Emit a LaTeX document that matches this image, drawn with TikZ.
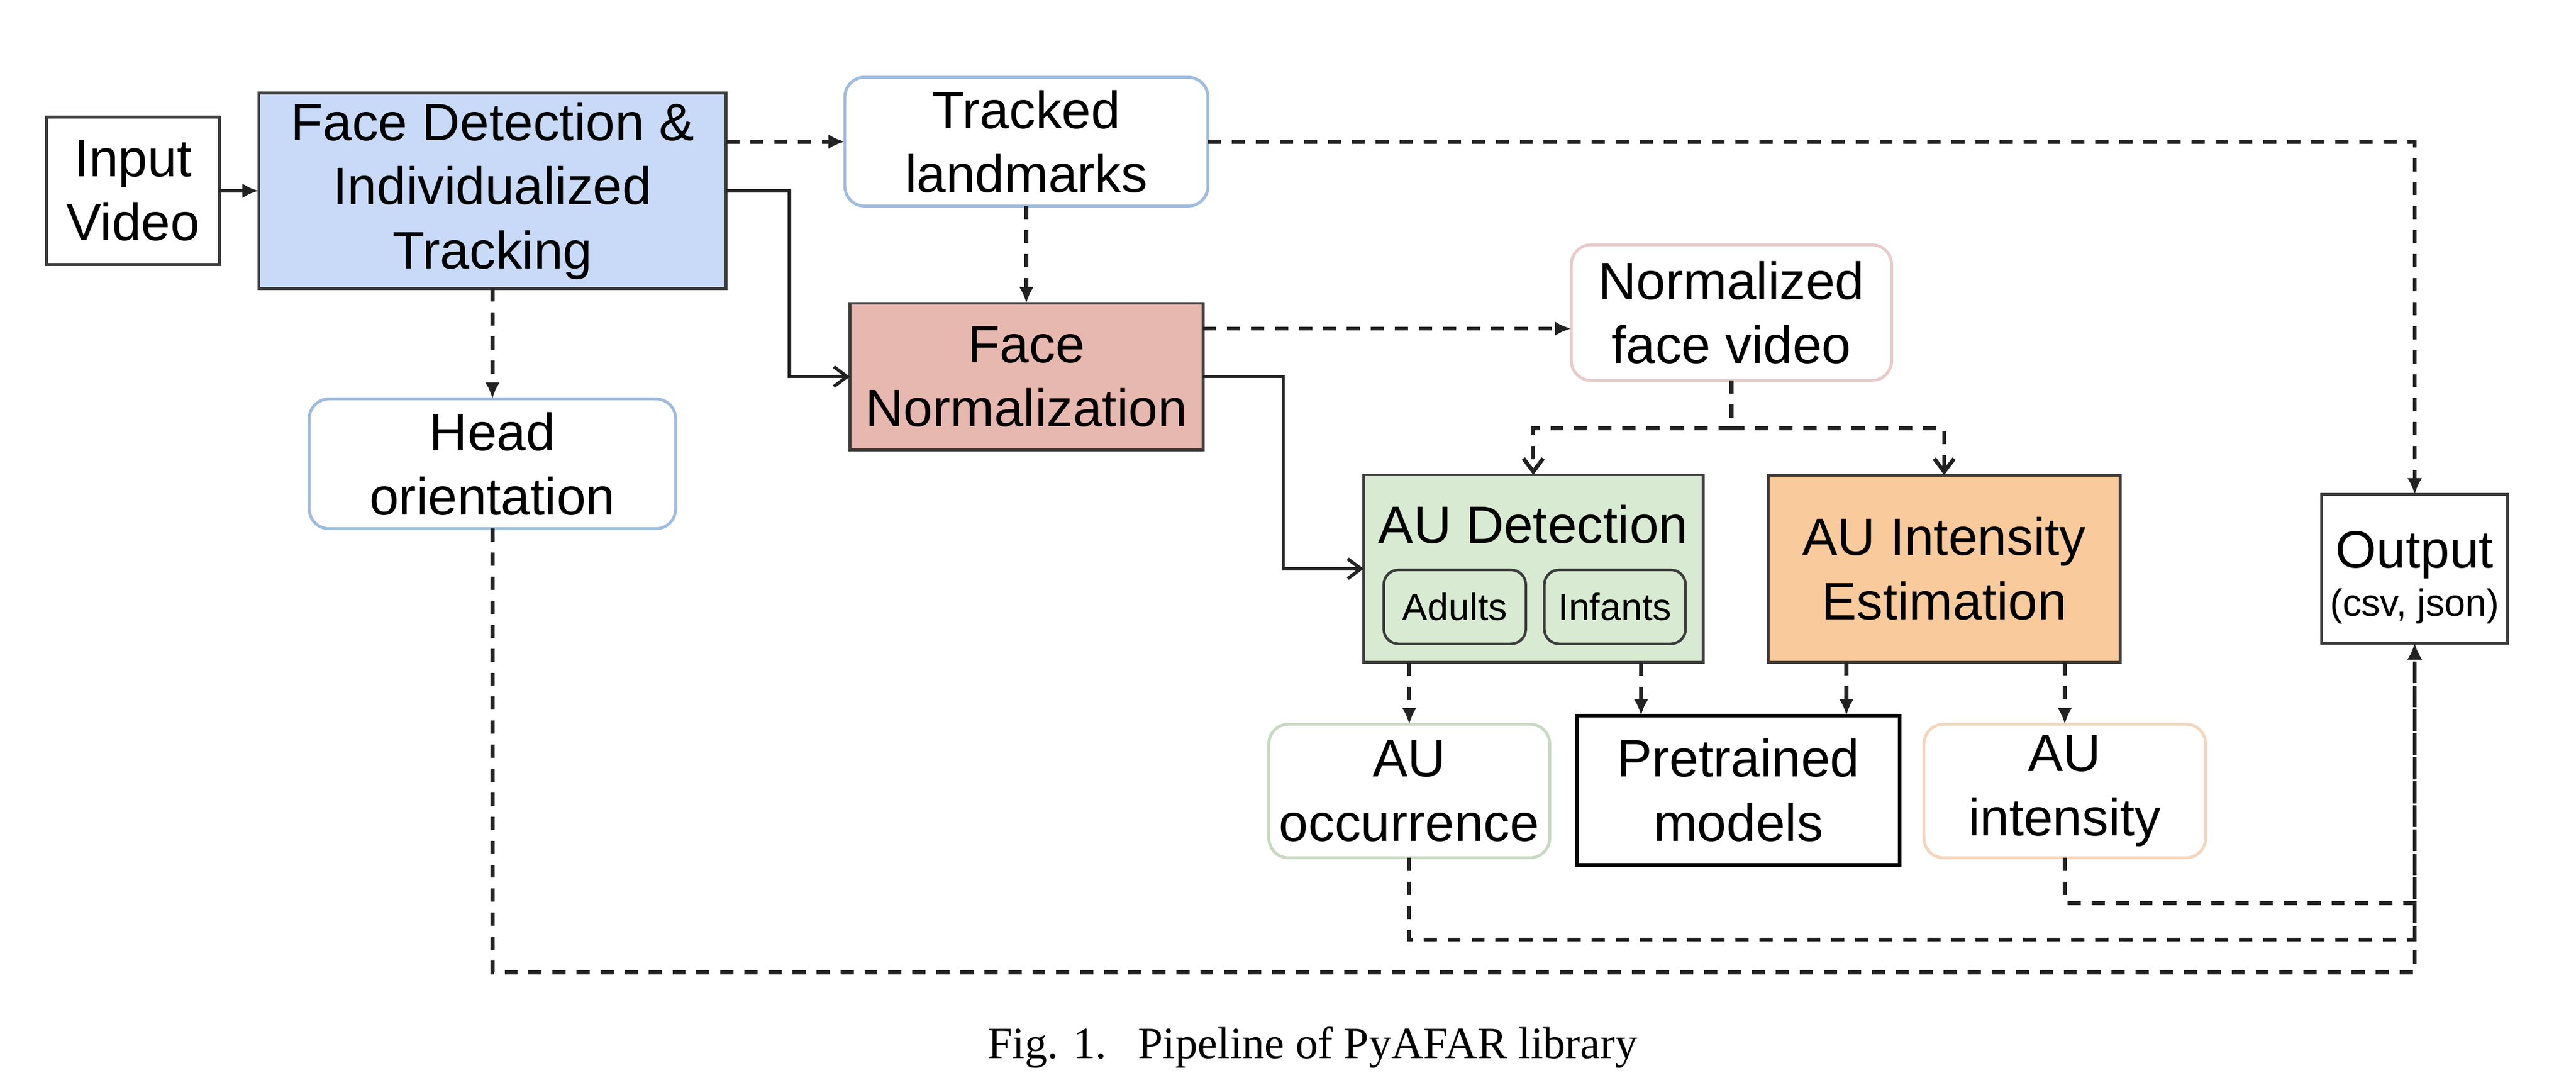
\documentclass[tikz,border=0pt]{standalone}
\usepackage{fontspec}
\setmainfont{Liberation Sans}
\newfontfamily\capfont{Liberation Serif}
\usetikzlibrary{arrows.meta,calc}
\definecolor{fdblue}{HTML}{C9DAF8}
\definecolor{fnred}{HTML}{E6B8AF}
\definecolor{audgreen}{HTML}{D9EAD3}
\definecolor{auiorange}{HTML}{F9CB9C}
\definecolor{boxline}{HTML}{3C3C3C}
\definecolor{bluebord}{HTML}{9FBCE0}
\definecolor{pinkbord}{HTML}{E8CACA}
\definecolor{greenbord}{HTML}{C8D9C2}
\definecolor{orangebord}{HTML}{F3D6BC}
\definecolor{linecol}{HTML}{222222}
\begin{document}
\begin{tikzpicture}[x=0.5pt,y=-0.5pt,
  every node/.style={inner sep=0pt,outer sep=0pt,align=center,font=\fontsize{16}{19.5}\selectfont},
  sz/.style 2 args={minimum width=#1*0.5pt,minimum height=#2*0.5pt},
  plainbox/.style={draw=boxline,line width=0.9pt},
  roundbox/.style={line width=0.9pt,rounded corners=6pt},
  innerbox/.style={draw=boxline,line width=0.8pt,rounded corners=4.5pt,font=\fontsize{11.5}{14}\selectfont},
  smalltext/.style={font=\fontsize{11.5}{14}\selectfont},
  dashline/.style={draw=linecol,line width=1.2pt,dash pattern=on 4pt off 3.3pt},
  solidline/.style={draw=linecol,line width=1pt},
  filltip/.style={-{Latex[length=5pt,width=4.5pt]}},
  barbtip/.style={-{Straight Barb[length=4pt,width=6pt]}}
]
\fill[white] (0,0) rectangle (1568,663);
\useasboundingbox (0,0) rectangle (1568,663);

% nodes
\node[plainbox,sz={105}{90}] (in) at (81,116.1) {Input\\Video};
\node[plainbox,fill=fdblue,sz={284.5}{118.8}] (fd) at (299.75,116.1) {Face Detection \&\\Individualized\\Tracking};
\node[roundbox,draw=bluebord,sz={221}{78.4}] (tl) at (624.75,86.2) {Tracked\\landmarks};
\node[plainbox,fill=fnred,sz={215}{89.2}] (fn) at (624.75,229.2) {Face\\Normalization};
\node[roundbox,draw=bluebord,sz={223}{79}] (ho) at (299.75,282.25) {Head\\orientation};
\node[roundbox,draw=pinkbord,sz={195}{82.5}] (nfv) at (1053.9,190.25) {Normalized\\face video};
\node[plainbox,fill=audgreen,sz={206.5}{114.2}] (aud) at (933.3,346.1) {};
\node[anchor=base] (audt) at (933.3,330.5) {AU Detection};
\node[innerbox,sz={86.5}{45}] (adults) at (885.5,369.3) {Adults};
\node[innerbox,sz={86}{45}] (infants) at (983,369.3) {Infants};
\node[plainbox,fill=auiorange,sz={214}{114}] (aui) at (1183.4,346.1) {AU Intensity\\Estimation};
\node[plainbox,sz={113.5}{90.4}] (out) at (1469.8,346.2) {};
\node[anchor=base] (outt) at (1469.8,345.4) {Output};
\node[anchor=base,smalltext] (outs) at (1469.8,375) {(csv, json)};
\node[roundbox,draw=greenbord,sz={171}{81.3}] (occ) at (857.8,481.35) {AU\\occurrence};
\node[draw=black,line width=1.1pt,sz={196.5}{90.9}] (pre) at (1058.15,480.85) {Pretrained\\models};
\node[roundbox,draw=orangebord,sz={171.5}{81.3}] (ain) at (1256.8,481.35) {AU\\intensity};
\node[anchor=base,font=\capfont\fontsize{13.6}{16}\selectfont] (cap) at (799,644) {Fig. 1.\hspace{0.7em}Pipeline of PyAFAR library};

% helper coordinates
\coordinate (fnA) at ([yshift=14.6pt]fn.east);
\coordinate (p1) at ([xshift=19.5pt]pre.north west);
\coordinate (p2) at ([xshift=-16.25pt]pre.north east);

% connectors
\draw[solidline,filltip] (in.east) -- (fd.west);
\draw[dashline,filltip] (fd.east |- tl.west) -- (tl.west);
\draw[dashline,filltip] (tl.east) -| (out.north);
\draw[dashline,filltip] (tl.south) -- (fn.north);
\draw[solidline,barbtip] (fd.east) -- ++(38.5,0) |- (fn.west);
\draw[dashline,filltip] (fd.south) -- (ho.north);
\draw[dashline,filltip] (fnA) -- (fnA -| nfv.west);
\draw[solidline,barbtip] (fn.east) -- ++(48.9,0) |- (aud.west);
\draw[dashline] (nfv.south) -- ++(0,29) coordinate (split);
\draw[dashline,barbtip] (split) -| (aud.north);
\draw[dashline,barbtip] (split) -| (aui.north);
\draw[dashline,filltip] (aud.south -| occ.north) -- (occ.north);
\draw[dashline,filltip] (aud.south -| p1) -- (p1);
\draw[dashline,filltip] (aui.south -| p2) -- (p2);
\draw[dashline,filltip] (aui.south -| ain.north) -- (ain.north);
\draw[dashline,filltip] (ain.south) -- ++(0,27.5) -| (out.south);
\draw[dashline,filltip] (occ.south) -- ++(0,49.7) -| (out.south);
\draw[dashline,filltip] (ho.south) -- ++(0,270) -| (out.south);
\end{tikzpicture}
\end{document}
